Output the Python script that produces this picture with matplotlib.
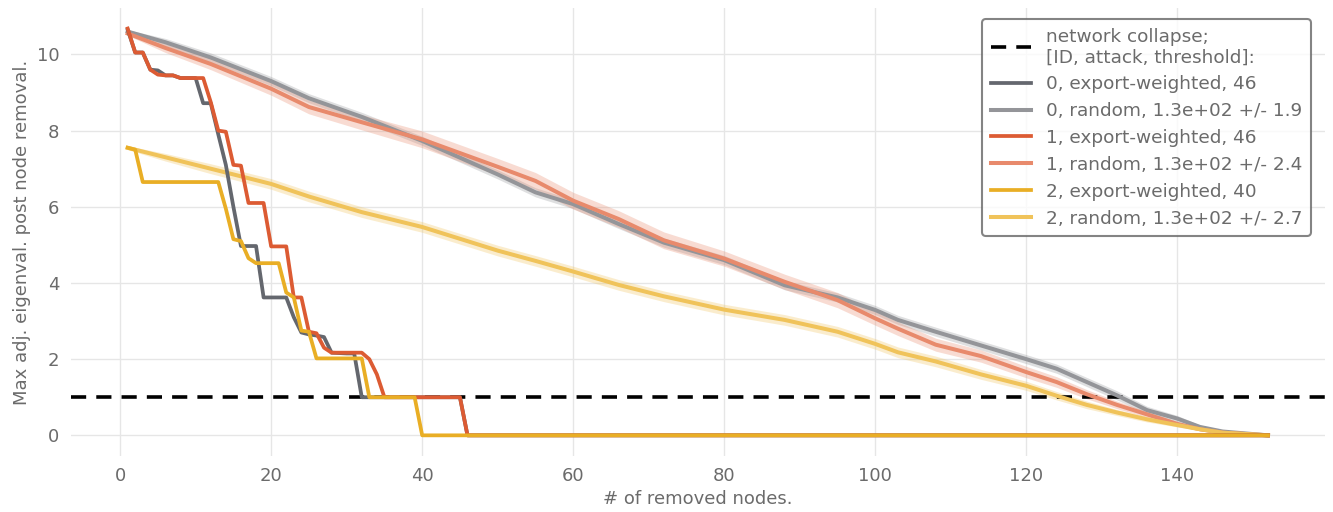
import matplotlib
matplotlib.use("Agg")
import numpy as np
import matplotlib.pyplot as plt

# removed-node count for the targeted (export-weighted) attacks
nodes = np.arange(1, 153)

# export-weighted attack, first values (rest are 0)
exp0_head = [10.65, 10.05, 10.05, 9.6, 9.58, 9.45, 9.45, 9.38, 9.38, 9.38,
             8.72, 8.72, 7.9, 7.1, 6.0, 4.97, 4.97, 4.97, 3.62, 3.62,
             3.62, 3.62, 3.1, 2.7, 2.65, 2.62, 2.58, 2.17, 2.16, 2.15,
             2.15, 1.0, 1.0, 1.0, 1.0, 1.0, 1.0, 1.0, 1.0, 1.0,
             1.0, 1.0, 1.0, 1.0, 1.0]
exp1_head = [10.68, 10.05, 10.05, 9.6, 9.47, 9.45, 9.45, 9.38, 9.38, 9.38,
             9.38, 8.75, 8.0, 7.97, 7.1, 7.08, 6.1, 6.1, 6.1, 4.96,
             4.96, 4.96, 3.62, 3.62, 2.72, 2.68, 2.3, 2.17, 2.17, 2.17,
             2.17, 2.17, 2.0, 1.6, 1.0, 1.0, 1.0, 1.0, 1.0, 1.0,
             1.0, 1.0, 1.0, 1.0, 1.0]
exp2_head = [7.55, 7.5, 6.65, 6.65, 6.65, 6.65, 6.65, 6.65, 6.65, 6.65,
             6.65, 6.65, 6.65, 5.95, 5.15, 5.1, 4.65, 4.52, 4.52, 4.52,
             4.52, 3.75, 3.62, 2.75, 2.72, 2.02, 2.02, 2.02, 2.02, 2.02,
             2.02, 2.02, 1.0, 1.0, 1.0, 1.0, 1.0, 1.0, 1.0]

# random attack: mean and spread, sampled along the x axis
rand_n = [1, 6, 12, 20, 25, 32, 40, 50, 55, 60, 66, 72, 80, 88, 95, 100,
          103, 108, 114, 120, 124, 128, 132, 136, 140, 143, 146, 152]
rand0 = [10.6, 10.32, 9.92, 9.3, 8.85, 8.36, 7.73, 6.85, 6.38, 6.07, 5.55,
         5.06, 4.6, 3.94, 3.62, 3.29, 3.03, 2.72, 2.36, 2.0, 1.75, 1.4,
         1.05, 0.66, 0.44, 0.22, 0.1, 0.0]
rand1 = [10.55, 10.17, 9.75, 9.1, 8.62, 8.22, 7.77, 7.05, 6.68, 6.16, 5.68,
         5.12, 4.64, 4.03, 3.55, 3.07, 2.8, 2.38, 2.08, 1.66, 1.4, 1.08,
         0.8, 0.55, 0.3, 0.16, 0.07, 0.0]
rand2 = [7.55, 7.3, 7.0, 6.6, 6.27, 5.86, 5.47, 4.85, 4.58, 4.3, 3.95,
         3.65, 3.3, 3.03, 2.72, 2.4, 2.18, 1.94, 1.6, 1.3, 1.04, 0.8,
         0.6, 0.42, 0.27, 0.16, 0.07, 0.0]
std0 = [0.05, 0.1, 0.12, 0.12, 0.12, 0.12, 0.12, 0.12, 0.12, 0.12, 0.12,
        0.12, 0.12, 0.12, 0.12, 0.12, 0.12, 0.12, 0.12, 0.12, 0.12, 0.12,
        0.12, 0.1, 0.08, 0.05, 0.03, 0.0]
std1 = [0.05, 0.12, 0.15, 0.17, 0.18, 0.2, 0.22, 0.22, 0.22, 0.22, 0.22,
        0.22, 0.2, 0.2, 0.2, 0.18, 0.18, 0.17, 0.16, 0.15, 0.14, 0.12,
        0.1, 0.08, 0.06, 0.04, 0.03, 0.0]
std2 = [0.05, 0.1, 0.13, 0.14, 0.14, 0.14, 0.14, 0.14, 0.14, 0.14, 0.14,
        0.14, 0.14, 0.14, 0.14, 0.14, 0.14, 0.14, 0.13, 0.12, 0.11, 0.1,
        0.08, 0.07, 0.05, 0.04, 0.03, 0.0]

thresholds = [46, 46, 40]
rand_thr = ["1.3e+02 +/- 1.9", "1.3e+02 +/- 2.4", "1.3e+02 +/- 2.7"]
collapse_level = 1.0

dark = ["#64676e", "#dc5b33", "#e9ae25"]
light = ["#949599", "#e88a6c", "#f0c35a"]
txt = "#6b6b6b"

plt.rcParams['font.family'] = ['DejaVu Sans']
fig = plt.figure(figsize=(13.33, 5.12), dpi=100)
ax = fig.add_axes([0.053, 0.11, 0.941, 0.874])

h_col = ax.axhline(collapse_level, color="black", lw=2.6, ls=(0, (4.2, 2.8)), zorder=2.5)

handles = [h_col]
labels = ["network collapse;\n[ID, attack, threshold]:"]
heads = [exp0_head, exp1_head, exp2_head]
rands = [rand0, rand1, rand2]
stds = [std0, std1, std2]
for i in range(3):
    y = np.zeros(len(nodes))
    y[:len(heads[i])] = heads[i]
    m = np.array(rands[i])
    s = np.array(stds[i])
    ax.fill_between(rand_n, m - s, m + s, color=light[i], alpha=0.3, lw=0, zorder=2)
    hr, = ax.plot(rand_n, m, color=light[i], lw=2.9, zorder=3)
    he, = ax.plot(nodes, y, color=dark[i], lw=2.7, zorder=4)
    handles += [he, hr]
    labels += ["%d, export-weighted, %d" % (i, thresholds[i]),
               "%d, random, %s" % (i, rand_thr[i])]

ax.set_xlabel("# of removed nodes.", color=txt, fontsize=13)
ax.set_ylabel("Max adj. eigenval. post node removal.", color=txt, fontsize=13)
ax.set_xticks(range(0, 141, 20))
ax.set_yticks(range(0, 11, 2))
ax.tick_params(colors=txt, labelsize=13, length=0, pad=8)
ax.grid(color="#e6e6e6", lw=1)
ax.set_axisbelow(True)
for sp in ax.spines.values():
    sp.set_visible(False)

leg = ax.legend(handles, labels, loc="upper right", fontsize=13.3, frameon=True,
                handlelength=2.2, labelspacing=0.48, borderpad=0.45,
                bbox_to_anchor=(0.996, 0.996))
leg.get_frame().set_edgecolor("#666666")
leg.get_frame().set_linewidth(1.5)
leg.set_zorder(10)
for t in leg.get_texts():
    t.set_color(txt)

fig.savefig("out.png", dpi=100)
